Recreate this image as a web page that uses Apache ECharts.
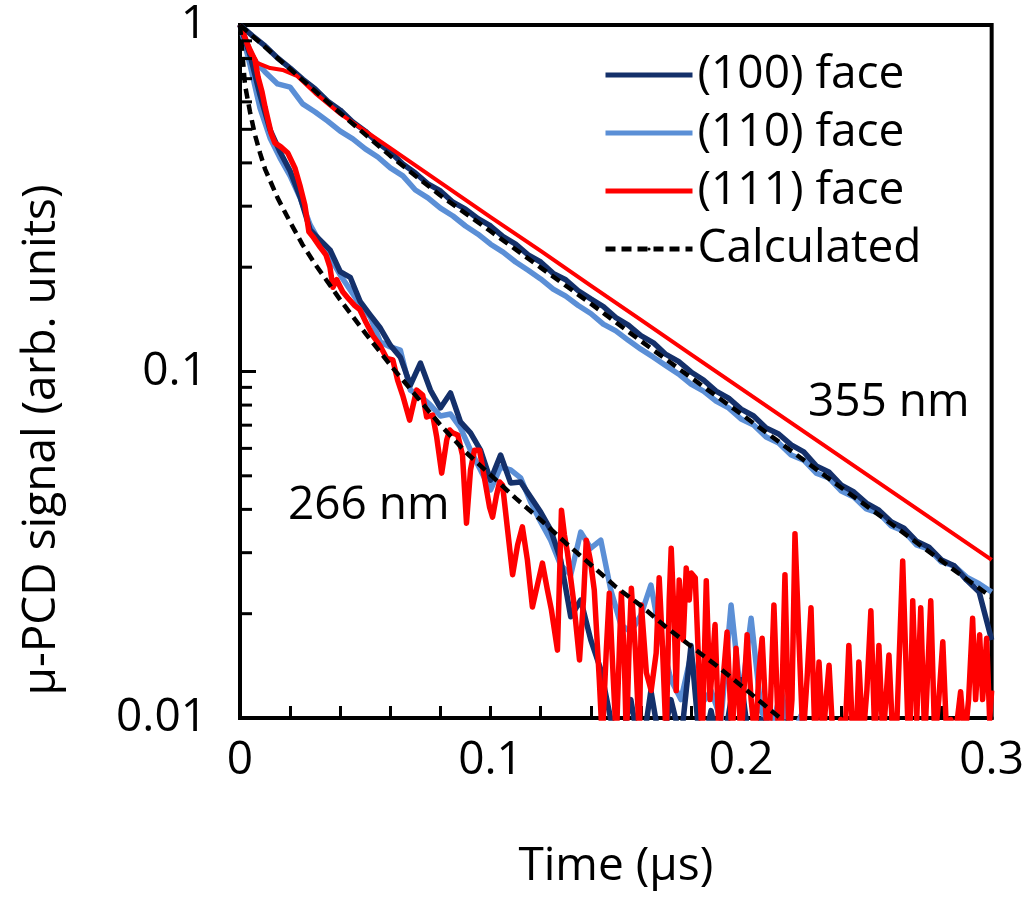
<!DOCTYPE html>
<html><head><meta charset="utf-8">
<script src="https://cdn.jsdelivr.net/npm/echarts@6/dist/echarts.min.js"></script>
<style>html,body{margin:0;padding:0;background:#fff}#c{width:1027px;height:898px}</style>
</head><body><div id="c"></div>
<script>
// ---------------- data (time in µs, signal in arb. units) ----------------
const seriesNames = ['(100) face', '(110) face', '(111) face', 'Calculated'];
const xTickLabels = ['0', '0.1', '0.2', '0.3'];
const yTickLabels = ['0.01', '0.1', '1'];
const yMinorTickValues = [0.02,0.03,0.04,0.05,0.06,0.07,0.08,0.09,0.2,0.3,0.4,0.5,0.6,0.7,0.8,0.9];
const yAxisTitle = 'μ-PCD signal (arb. units)';
const xAxisTitle = 'Time (μs)';

// 355 nm excitation
const t355 = [0,0.005,0.01,0.015,0.02,0.025,0.03,0.035,0.04,0.045,0.05,0.055,0.06,0.065,0.07,0.075,0.08,0.085,0.09,0.095,
  0.1,0.105,0.11,0.115,0.12,0.125,0.13,0.135,0.14,0.145,0.15,0.155,0.16,0.165,0.17,0.175,0.18,0.185,0.19,0.195,
  0.2,0.205,0.21,0.215,0.22,0.225,0.23,0.235,0.24,0.245,0.25,0.255,0.26,0.265,0.27,0.275,0.28,0.285,0.29,0.295,0.3];
const face100_355 = [1,0.930,0.870,0.803,0.751,0.698,0.654,0.603,0.568,0.525,0.494,0.457,0.430,0.397,0.374,0.348,0.332,0.308,0.294,0.276,
  0.263,0.245,0.233,0.217,0.207,0.192,0.184,0.171,0.162,0.154,0.143,0.136,0.127,0.121,0.112,0.107,0.0997,0.0945,0.0878,0.0838,
  0.0779,0.0744,0.0687,0.0660,0.0614,0.0586,0.0534,0.0513,0.0470,0.0449,0.0417,0.0398,0.0368,0.0353,0.0324,0.0311,0.0286,0.0275,0.0250,0.0231,0.0168];
const face110_355 = [1,0.803,0.732,0.676,0.662,0.592,0.561,0.528,0.494,0.469,0.439,0.416,0.387,0.367,0.334,0.317,0.296,0.281,0.263,0.249,
  0.233,0.221,0.207,0.196,0.185,0.173,0.165,0.155,0.147,0.137,0.131,0.123,0.116,0.110,0.104,0.0984,0.0920,0.0878,0.0822,0.0785,
  0.0729,0.0701,0.0647,0.0622,0.0574,0.0555,0.0509,0.0493,0.0452,0.0434,0.0401,0.0390,0.0358,0.0346,0.0316,0.0307,0.0282,0.0275,0.0255,0.0244,0.0231];
const t111_355 = [0,0.004,0.0068,0.012,0.017,0.0227,0.03,0.04,0.06,0.08,0.1,0.12,0.14,0.16,0.18,0.2,0.22,0.24,0.26,0.28,0.3];
const face111_355 = [1,0.858,0.777,0.751,0.742,0.713,0.636,0.554,0.441,0.351,0.279,0.223,0.177,0.141,0.112,0.0893,0.0711,0.0566,0.0451,0.0359,0.0286];
const tCalc355 = [0,0.02,0.04,0.06,0.08,0.1,0.12,0.14,0.16,0.18,0.2,0.22,0.24,0.26,0.28,0.3];
const calc355 = [1,0.746,0.557,0.419,0.322,0.254,0.1995,0.157,0.1225,0.096,0.0754,0.059,0.0462,0.0363,0.0284,0.0223];

// 266 nm excitation
const t266 = [0,0.004,0.008,0.012,0.016,0.02,0.024,0.028,0.032,0.036,0.04,0.044,0.048,0.052,0.056,0.06,0.064,0.068,0.072,0.076,
  0.08,0.084,0.088,0.092,0.096,0.1,0.104,0.108,0.112,0.116,0.12,0.124,0.128,0.132,0.136,0.14,0.144,0.148,0.152,0.156,
  0.16,0.164,0.168,0.172,0.176,0.18,0.184,0.188,0.192,0.196,0.2,0.204,0.208,0.212,0.216,0.22,0.224,0.228,0.232];
const face100_266 = [1,0.819,0.628,0.498,0.430,0.379,0.319,0.256,0.2395,0.224,0.194,0.187,0.159,0.1455,0.1335,0.119,0.110,0.0914,0.1058,0.0884,
  0.0785,0.0867,0.0715,0.0665,0.0593,0.0486,0.0574,0.0477,0.0480,0.0434,0.0393,0.0349,0.0286,0.0196,0.0219,0.0168,0.0138,0.0099,0.0086,0.0113,
  0.0076,0.0120,0.0081,0.0113,0.0086,0.0162,0.0076,0.0105,0.0076,0.0113,0.0129,0.0076,0.0099,0.0071,0.0086,0.0066];
const face110_266 = [1,0.767,0.576,0.472,0.413,0.367,0.317,0.265,0.235,0.213,0.190,0.172,0.1555,0.1437,0.1217,0.1177,0.1153,0.0884,0.0850,0.0800,
  0.0744,0.0754,0.0687,0.0593,0.0520,0.0455,0.0530,0.0520,0.0493,0.0420,0.0368,0.0326,0.0276,0.0259,0.0344,0.0309,0.0326,0.0234,0.0186,0.0177,
  0.0198,0.0242,0.0168,0.0129,0.0113,0.0152,0.0109,0.0120,0.0099,0.0212,0.0113,0.0194,0.0105,0.0092,0.0120,0.0086,0.0102,0.0076,0.0071];
const t111_266 = [0,0.0016,0.004,0.006,0.0072,0.0088,0.01,0.0124,0.0139,0.0163,0.0191,0.0219,0.0239,0.0259,0.0275,0.0291,0.0319,0.0343,0.0359,0.0371,
  0.0386,0.041,0.0434,0.0458,0.0478,0.0502,0.053,0.0558,0.0586,0.061,0.0629,0.0649,0.0677,0.0705,0.0729,0.0745,0.0769,0.0785,0.0805,0.0825,
  0.0837,0.0849,0.0869,0.0888,0.0904,0.092,0.0936,0.0956,0.0984,0.0996,0.1008,0.1024,0.1036,0.1048,0.1068,0.1088,0.1108,0.1127,0.1147,0.1167,
  0.1187,0.1207,0.1227,0.1243,0.1267,0.1283,0.1295,0.1307,0.1331,0.1355,0.1371,0.1382,0.1398,0.1414,0.1434,0.1446,0.1462,0.1474,0.149,0.1502,
  0.1514,0.1522,0.1534,0.1542,0.1554,0.1562,0.1578,0.1594,0.1602,0.1622,0.1641,0.1661,0.1673,0.1685,0.1701,0.1713,0.1721,0.1733,0.1741,0.1753,
  0.1769,0.1781,0.1793,0.1801,0.1817,0.1833,0.1845,0.1861,0.1876,0.1896,0.1912,0.1928,0.1944,0.1964,0.198,0.2,0.2024,0.204,0.2056,0.2072,
  0.2084,0.21,0.2112,0.2131,0.2147,0.2159,0.2175,0.2191,0.2203,0.2215,0.2231,0.2247,0.2263,0.2279,0.2295,0.2311,0.2327,0.2339,0.2351,0.2367,
  0.2382,0.2398,0.2414,0.243,0.2446,0.2462,0.247,0.2486,0.2502,0.2518,0.2534,0.255,0.2566,0.2578,0.259,0.2606,0.2622,0.2645,0.2665,0.2673,
  0.2685,0.2701,0.2717,0.2733,0.2757,0.2773,0.2789,0.2805,0.2821,0.2837,0.2853,0.2876,0.2892,0.2908,0.2924,0.2936,0.2952,0.2964,0.298,0.2992,0.3];
const face111_266 = [1,0.936,0.836,0.792,0.708,0.641,0.580,0.488,0.457,0.445,0.427,0.387,0.345,0.302,0.253,0.245,0.229,0.217,0.200,0.175,
  0.184,0.170,0.162,0.155,0.151,0.139,0.127,0.119,0.109,0.108,0.0945,0.0855,0.0724,0.0884,0.0855,0.0739,0.0749,0.0647,0.0509,0.0634,
  0.0678,0.0665,0.0656,0.0574,0.0365,0.0520,0.0593,0.0593,0.0455,0.0406,0.0380,0.0440,0.0480,0.0470,0.0349,0.0259,0.0316,0.0356,0.0286,0.0209,
  0.0242,0.0280,0.0234,0.0205,0.0157,0.0398,0.0337,0.0300,0.0219,0.0147,0.0219,0.0326,0.0286,0.0234,0.0129,0.0086,0.0157,0.0229,0.0129,0.0086,
  0.0157,0.0229,0.0147,0.0086,0.0168,0.0237,0.0157,0.0086,0.0212,0.0135,0.0120,0.0154,0.0254,0.0168,0.0086,0.0219,0.0309,0.0192,0.0120,0.0250,
  0.0168,0.0271,0.0219,0.0262,0.0254,0.0129,0.0086,0.0249,0.0113,0.0186,0.0086,0.0129,0.0177,0.0086,0.0159,0.0086,0.0174,0.0113,0.0086,0.0138,
  0.0170,0.0099,0.0086,0.0212,0.0099,0.0086,0.0259,0.0086,0.0113,0.0340,0.0168,0.0086,0.0129,0.0208,0.0086,0.0145,0.0086,0.0113,0.0142,0.0086,
  0.0086,0.0099,0.0086,0.0162,0.0086,0.0099,0.0145,0.0086,0.0120,0.0204,0.0086,0.0162,0.0086,0.0113,0.0152,0.0086,0.0099,0.0284,0.0099,0.0086,
  0.0218,0.0099,0.0208,0.0086,0.0218,0.0086,0.0113,0.0166,0.0086,0.0099,0.0086,0.0119,0.0086,0.0113,0.0194,0.0113,0.0174,0.0113,0.0170,0.0099,0.0120];
const tCalc266 = [0,0.002,0.004,0.006,0.008,0.01,0.015,0.02,0.025,0.03,0.04,0.05,0.06,0.07,0.08,0.09,0.1,0.11,0.12,0.13,0.14,0.15,0.16,0.17,0.18,0.19,0.2,0.21,0.22];
const calc266 = [1,0.671,0.561,0.481,0.427,0.384,0.317,0.270,0.232,0.204,0.161,0.129,0.1044,0.0855,0.0701,0.0586,0.0503,0.0431,0.0373,0.032,0.0277,0.0239,0.0211,0.0183,0.0161,0.0142,0.0124,0.0108,0.0094];

// ---------------- chart ----------------
const FONT = 'Open Sans';
const FS = 46;
const NAVY = '#14306a', LIGHT = '#5b8fd6', RED = '#ff0000';
const zip = (t, v) => t.map((x, i) => [x, v[i]]).filter(p => p[1] !== undefined);

function lineSeries(name, t, v, color, lw, z, dashed) {
  return {
    type: 'line', name: name, data: zip(t, v), showSymbol: false, symbol: 'none',
    z: z, clip: true, silent: true,
    lineStyle: { color: color, width: lw, type: dashed ? [10, 6] : 'solid', cap: 'butt', join: 'round' },
    itemStyle: { color: color }
  };
}

const chart = echarts.init(document.getElementById('c'), null, { renderer: 'canvas' });
chart.setOption({
  backgroundColor: '#fff',
  animation: false,
  textStyle: { fontFamily: FONT },
  grid: { left: 240, top: 25, width: 753, height: 693, show: true, borderColor: '#000', borderWidth: 4, containLabel: false },
  legend: {
    data: seriesNames, orient: 'vertical', left: 603, top: 52, padding: 0,
    itemWidth: 87, itemHeight: 4, itemGap: 12,
    lineStyle: { width: 5 },
    textStyle: { fontFamily: FONT, fontSize: FS, color: '#000' },
    selectedMode: false
  },
  xAxis: {
    type: 'value', min: 0, max: 0.3, interval: 0.1,
    name: xAxisTitle, nameLocation: 'middle', nameGap: 126,
    nameTextStyle: { fontFamily: FONT, fontSize: FS, color: '#000' },
    axisLine: { show: true, lineStyle: { color: '#000', width: 4 } },
    axisTick: { show: true, inside: true, length: 12, lineStyle: { color: '#000', width: 3 } },
    minorTick: { show: true, splitNumber: 5, length: 12, lineStyle: { color: '#000', width: 3 } },
    splitLine: { show: false }, minorSplitLine: { show: false },
    axisLabel: { fontFamily: FONT, fontSize: FS, color: '#000', margin: 20,
      formatter: v => xTickLabels[Math.round(v * 10)] }
  },
  yAxis: {
    type: 'log', logBase: 10, min: 0.01, max: 1,
    axisLine: { show: true, lineStyle: { color: '#000', width: 4 } },
    axisTick: { show: true, inside: true, length: 16, lineStyle: { color: '#000', width: 3 } },
    splitLine: { show: false },
    axisLabel: { fontFamily: FONT, fontSize: FS, color: '#000', margin: 33,
      formatter: v => yTickLabels[Math.round(Math.log10(v)) + 2] }
  },
  graphic: [
    { type: 'text', x: 42, y: 440, rotation: Math.PI / 2,
      style: { text: yAxisTitle, font: FS + 'px "Open Sans"', fill: '#000', align: 'center', verticalAlign: 'middle' } },
    { type: 'text', left: 288, top: 483, style: { text: '266 nm', font: FS + 'px "Open Sans"', fill: '#000' } },
    { type: 'text', left: 808, top: 380, style: { text: '355 nm', font: FS + 'px "Open Sans"', fill: '#000' } }
  ],
  series: [
    {
      type: 'custom', name: 'yMinorTicks', silent: true, z: 10, clip: false,
      data: yMinorTickValues.map(v => [0, v]),
      renderItem: function (params, api) {
        const p = api.coord([0, api.value(1)]);
        return { type: 'line', shape: { x1: p[0], y1: p[1], x2: p[0] + 12, y2: p[1] },
                 style: { stroke: '#000', lineWidth: 3 } };
      }
    },
    lineSeries(seriesNames[0], t355, face100_355, NAVY, 5.5, 3),
    lineSeries(seriesNames[1], t355, face110_355, LIGHT, 5.5, 2),
    lineSeries(seriesNames[2], t111_355, face111_355, RED, 4, 4),
    lineSeries(seriesNames[3], tCalc355, calc355, '#000', 4.5, 5, true),
    lineSeries(seriesNames[0], t266, face100_266, NAVY, 5.5, 3),
    lineSeries(seriesNames[1], t266, face110_266, LIGHT, 5.5, 2),
    lineSeries(seriesNames[2], t111_266, face111_266, RED, 5.5, 4),
    lineSeries(seriesNames[3], tCalc266, calc266, '#000', 4.5, 5, true)
  ]
});
</script>
</body></html>
